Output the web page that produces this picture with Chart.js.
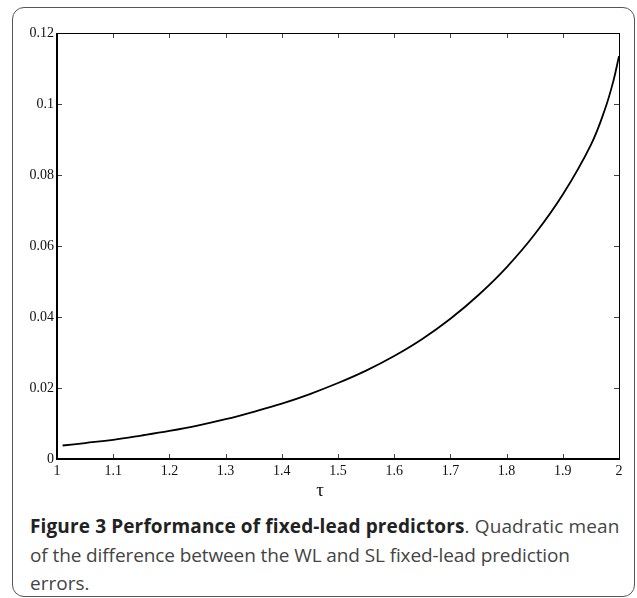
<!DOCTYPE html>
<html>
<head>
<meta charset="utf-8">
<script src="https://cdn.jsdelivr.net/npm/chart.js@4.4.0/dist/chart.umd.min.js"></script>
<style>
  html, body { margin: 0; padding: 0; background: #fff; }
  #wrap { position: relative; width: 637px; height: 598px; overflow: hidden; }
  #box {
    position: absolute; left: 12px; top: 7px; width: 621px; height: 588px;
    border: 1.5px solid #555; border-radius: 12px;
  }
  #c { position: absolute; left: 0; top: 0; }
  #tau {
    position: absolute; left: 312px; top: 479px; width: 16px; text-align: center;
    font: 19px "Liberation Serif", "DejaVu Serif", serif; color: #111;
  }
  #caption {
    position: absolute; left: 30px; top: 512px; white-space: nowrap;
    font: 19px/28.5px "Open Sans", sans-serif; color: #444;
  }
  #caption b { color: #222; }
  #caption .l1 { letter-spacing: 0.13px; }
  #caption .l2 { letter-spacing: -0.1px; }
</style>
</head>
<body>
<div id="wrap">
  <div id="box"></div>
  <canvas id="c" width="637" height="505"></canvas>
  <div id="tau">τ</div>
  <div id="caption"><span class="l1"><b>Figure 3 Performance of fixed-lead predictors</b>. Quadratic mean</span><br><span class="l2">of the difference between the WL and SL fixed-lead prediction</span><br>errors.</div>
</div>
<script>
// tau values and quadratic mean of the error difference
var tau = [1.01, 1.05, 1.1, 1.15, 1.2, 1.25, 1.3, 1.35, 1.4, 1.45, 1.5, 1.55,
           1.6, 1.65, 1.7, 1.75, 1.8, 1.85, 1.9, 1.95, 1.975, 1.99, 2.0];
var qmean = [0.0038, 0.0045, 0.0054, 0.0066, 0.0079, 0.0094, 0.0112, 0.0133,
             0.0156, 0.0183, 0.0214, 0.0249, 0.0290, 0.0338, 0.0395, 0.0462,
             0.0540, 0.0633, 0.0745, 0.0885, 0.0985, 0.1065, 0.1135];

var xTickStep = 0.1;
var yTickStep = 0.02;

var points = [];
for (var i in tau) {
  points.push({x: tau[i], y: qmean[i]});
}

// frame with inward ticks on all four sides
var framePlugin = {
  id: 'frame',
  afterDraw: function(chart) {
    var ctx = chart.ctx, a = chart.chartArea;
    var xs = chart.scales.x, ys = chart.scales.y;
    var len = 5;
    ctx.save();
    ctx.strokeStyle = '#444';
    ctx.lineWidth = 1;
    xs.ticks.forEach(function(t) {
      var px = Math.round(xs.getPixelForValue(t.value)) + 0.5;
      ctx.beginPath();
      ctx.moveTo(px, a.bottom); ctx.lineTo(px, a.bottom - len);
      ctx.moveTo(px, a.top); ctx.lineTo(px, a.top + len);
      ctx.stroke();
    });
    ys.ticks.forEach(function(t) {
      var py = Math.round(ys.getPixelForValue(t.value)) + 0.5;
      ctx.beginPath();
      ctx.moveTo(a.left, py); ctx.lineTo(a.left + len, py);
      ctx.moveTo(a.right, py); ctx.lineTo(a.right - len, py);
      ctx.stroke();
    });
    ctx.strokeStyle = '#000';
    ctx.lineWidth = 1;
    ctx.beginPath();
    ctx.moveTo(a.left, a.top + 0.5); ctx.lineTo(a.right, a.top + 0.5);
    ctx.moveTo(a.right + 0.5, a.top); ctx.lineTo(a.right + 0.5, a.bottom);
    ctx.stroke();
    ctx.lineWidth = 2;
    ctx.beginPath();
    ctx.moveTo(a.left, a.top); ctx.lineTo(a.left, a.bottom + 1);
    ctx.moveTo(a.left, a.bottom); ctx.lineTo(a.right + 1, a.bottom);
    ctx.stroke();
    ctx.restore();
  }
};

var ctx = document.getElementById('c');
var chart = new Chart(ctx, {
  type: 'line',
  data: {
    datasets: [{
      label: 'quadratic mean',
      data: points,
      borderColor: '#000',
      borderWidth: 1.8,
      pointRadius: 0,
      fill: false,
      tension: 0.4
    }]
  },
  options: {
    responsive: false,
    animation: false,
    events: [],
    layout: { padding: { left: 0, top: 33, right: 18, bottom: 0 } },
    plugins: { legend: { display: false }, tooltip: { enabled: false } },
    scales: {
      x: {
        type: 'linear', min: 1, max: 2,
        grid: { display: false, drawTicks: false }, border: { display: false },
        afterFit: function(s) { s.height = 46; },
        ticks: {
          stepSize: xTickStep, padding: 4, color: '#111', maxRotation: 0,
          font: { family: '"Liberation Serif", serif', size: 14 },
          callback: function(v) { return Math.round(v * 10) / 10; }
        }
      },
      y: {
        min: 0, max: 0.12,
        grid: { display: false, drawTicks: false }, border: { display: false },
        afterFit: function(s) { s.width = 57; },
        ticks: {
          stepSize: yTickStep, padding: 3, color: '#111',
          font: { family: '"Liberation Serif", serif', size: 14 },
          callback: function(v) { return Math.round(v * 100) / 100; }
        }
      }
    }
  },
  plugins: [framePlugin]
});
</script>
</body>
</html>
